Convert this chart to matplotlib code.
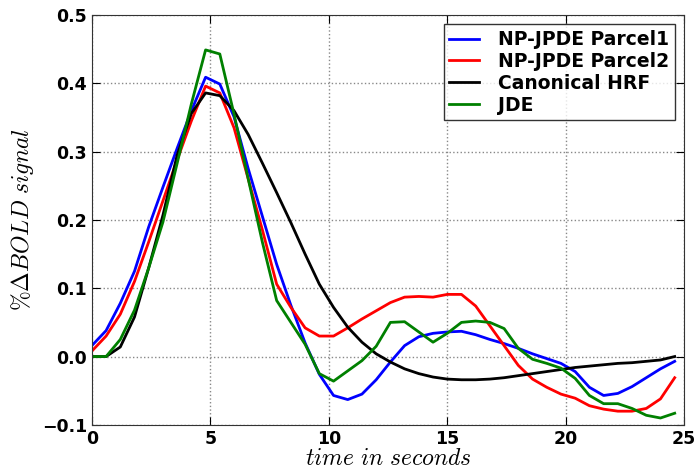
import numpy as np
import matplotlib
matplotlib.use('Agg')
from matplotlib import pyplot as plt

plt.rcParams['mathtext.fontset'] = 'cm'

dt = 0.6
n_points = 42

parcel1 = [0.016, 0.038, 0.078, 0.125, 0.19, 0.248, 0.305, 0.36, 0.409, 0.399,
           0.351, 0.275, 0.205, 0.135, 0.075, 0.02, -0.026, -0.057, -0.063, -0.055,
           -0.034, -0.008, 0.016, 0.029, 0.034, 0.036, 0.037, 0.032, 0.025, 0.019,
           0.012, 0.004, -0.003, -0.01, -0.022, -0.045, -0.057, -0.054, -0.044, -0.031,
           -0.018, -0.007]
parcel2 = [0.008, 0.03, 0.062, 0.11, 0.168, 0.228, 0.288, 0.345, 0.396, 0.386,
           0.335, 0.26, 0.185, 0.106, 0.072, 0.042, 0.03, 0.03, 0.042, 0.055,
           0.067, 0.079, 0.087, 0.088, 0.087, 0.091, 0.091, 0.074, 0.045, 0.016,
           -0.013, -0.033, -0.045, -0.055, -0.061, -0.072, -0.077, -0.08, -0.08, -0.076,
           -0.062, -0.031]
canonical = [0.0, 0.0, 0.014, 0.058, 0.13, 0.207, 0.295, 0.356, 0.386, 0.382,
             0.36, 0.325, 0.283, 0.24, 0.196, 0.15, 0.106, 0.072, 0.043, 0.021,
             0.004, -0.008, -0.018, -0.025, -0.03, -0.033, -0.034, -0.034, -0.033, -0.031,
             -0.028, -0.025, -0.022, -0.019, -0.016, -0.014, -0.012, -0.01, -0.009, -0.007,
             -0.005, 0.0]
jde = [0.0, 0.0, 0.025, 0.068, 0.13, 0.197, 0.283, 0.37, 0.449, 0.443,
       0.355, 0.26, 0.167, 0.082, 0.05, 0.018, -0.025, -0.036, -0.021, -0.006,
       0.015, 0.05, 0.051, 0.036, 0.021, 0.034, 0.05, 0.052, 0.05, 0.041,
       0.012, -0.004, -0.01, -0.017, -0.032, -0.057, -0.069, -0.069, -0.076, -0.086,
       -0.09, -0.083]

t = np.arange(n_points) * dt

fig = plt.figure(figsize=(6.96, 4.71), dpi=100)
ax = fig.add_axes([0.132, 0.098, 0.851, 0.87])

ax.plot(t, parcel1, color='#0000ff', lw=2, label='NP-JPDE Parcel1')
ax.plot(t, parcel2, color='#ff0000', lw=2, label='NP-JPDE Parcel2')
ax.plot(t, canonical, color='k', lw=2, label='Canonical HRF')
ax.plot(t, jde, color='#008000', lw=2, label='JDE')

ax.set_xlim(0, 25)
ax.set_ylim(-0.1, 0.5)
ax.set_xticks([0, 5, 10, 15, 20, 25])
ax.set_yticks([-0.1, 0.0, 0.1, 0.2, 0.3, 0.4, 0.5])
ax.set_yticklabels(['\u22120.1', '0.0', '0.1', '0.2', '0.3', '0.4', '0.5'])
ax.grid(True, linestyle=':', color='#888888', lw=1)
ax.tick_params(direction='in', top=True, right=True, length=6, labelsize=12.5)
for lab in ax.get_xticklabels() + ax.get_yticklabels():
    lab.set_fontweight('bold')
for sp in ax.spines.values():
    sp.set_color('#333333')

ax.set_xlabel(r'$time\ in\ seconds$', fontsize=17, labelpad=-1)
ax.set_ylabel(r'$\%\Delta BOLD\ signal$', fontsize=17, labelpad=4)

leg = ax.legend(loc='upper right', prop={'weight': 'bold', 'size': 13.5},
                fancybox=False, borderaxespad=0.5, handlelength=1.6,
                handletextpad=1.0, labelspacing=0.15, borderpad=0.3)
leg.get_frame().set_edgecolor('k')

fig.savefig('out.png', dpi=100)
